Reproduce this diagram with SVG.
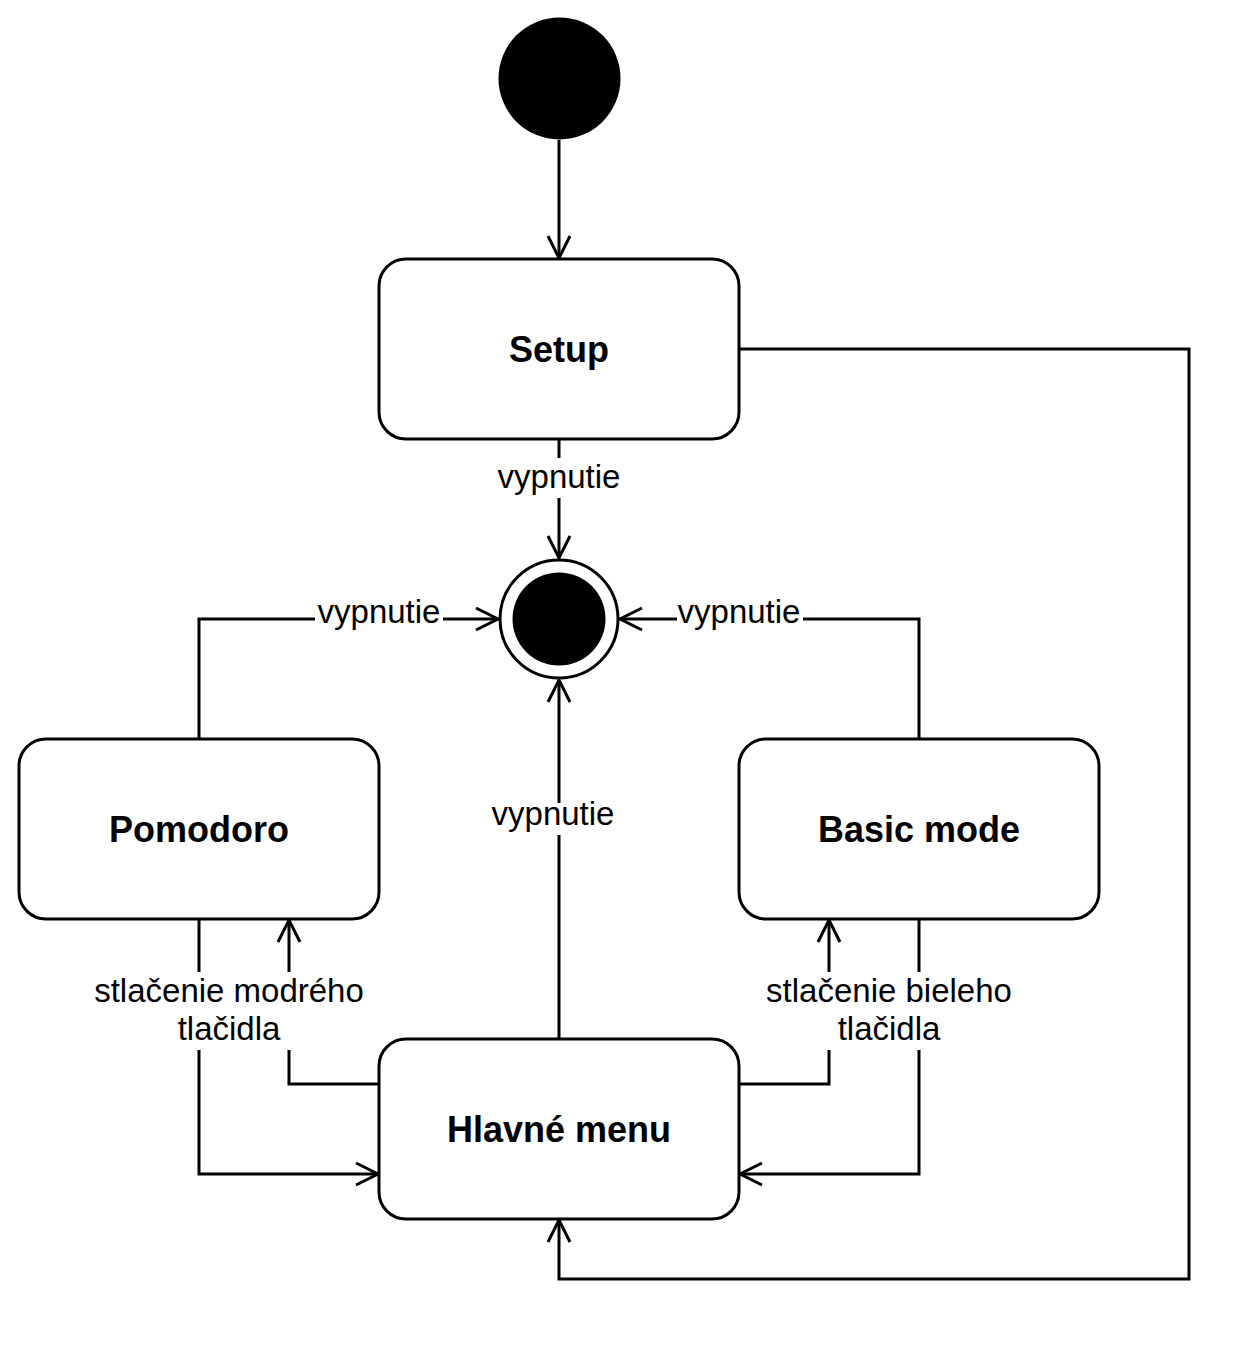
<svg xmlns="http://www.w3.org/2000/svg" width="1257" height="1347" viewBox="0 0 1257 1347">
<style>
.box{fill:#fff;stroke:#000;stroke-width:3}
.title{font-family:"Liberation Sans",Arial,sans-serif;font-weight:bold;font-size:36px;text-anchor:middle;fill:#000}
.lbl{font-family:"Liberation Sans",Arial,sans-serif;font-size:33px;text-anchor:middle;fill:#000}
.edge{fill:none;stroke:#000;stroke-width:3;marker-end:url(#arr)}
.edge2{fill:none;stroke:#000;stroke-width:3}
.bg{fill:#fff}
</style>
<defs>
<marker id="arr" markerUnits="userSpaceOnUse" markerWidth="30" markerHeight="30" viewBox="-25 -15 30 30" refX="0" refY="0" orient="auto" overflow="visible">
<path d="M-22,-11 L0,0 L-22,11" fill="none" stroke="#000" stroke-width="3"/>
</marker>
</defs>
<rect width="1257" height="1347" fill="#fff"/>
<g id="connectors">
<path class="edge" d="M559,140 L559,258"/>
<path class="edge" d="M559,439 L559,558"/>
<path class="edge" d="M199,739 L199,619 L498,619"/>
<path class="edge" d="M919,739 L919,619 L620,619"/>
<path class="edge" d="M559,1039 L559,680"/>
<path class="edge" d="M199,919 L199,1174 L378,1174"/>
<path class="edge" d="M379,1084 L289,1084 L289,920"/>
<path class="edge" d="M919,919 L919,1174 L740,1174"/>
<path class="edge" d="M739,1084 L829,1084 L829,920"/>
<path class="edge" d="M739,349 L1189,349 L1189,1279 L559,1279 L559,1220"/>
<rect class="bg" x="497" y="458" width="124" height="40"/>
<text class="lbl" x="559" y="488">vypnutie</text>
<rect class="bg" x="315" y="598" width="128" height="32"/>
<text class="lbl" x="379" y="623">vypnutie</text>
<rect class="bg" x="677" y="598" width="126" height="32"/>
<text class="lbl" x="739" y="623">vypnutie</text>
<rect class="bg" x="491" y="803" width="124" height="32"/>
<text class="lbl" x="553" y="825">vypnutie</text>
<rect class="bg" x="93" y="972" width="272" height="78"/>
<text class="lbl" x="229" y="1002">stlačenie modrého</text>
<text class="lbl" x="229" y="1040">tlačidla</text>
<rect class="bg" x="764" y="972" width="250" height="78"/>
<text class="lbl" x="889" y="1002">stlačenie bieleho</text>
<text class="lbl" x="889" y="1040">tlačidla</text>
</g>
<g id="initial">
<circle cx="559.5" cy="78.5" r="61" fill="#000"/>
</g>
<g id="setup">
<rect class="box" x="379" y="259" width="360" height="180" rx="27" ry="27"/>
<text class="title" x="559" y="362">Setup</text>
</g>
<g id="final">
<circle cx="559" cy="619" r="59" fill="#fff" stroke="#000" stroke-width="3"/>
<circle cx="559" cy="619" r="46.5" fill="#000"/>
</g>
<g id="pomodoro">
<rect class="box" x="19" y="739" width="360" height="180" rx="27" ry="27"/>
<text class="title" x="199" y="842">Pomodoro</text>
</g>
<g id="basic">
<rect class="box" x="739" y="739" width="360" height="180" rx="27" ry="27"/>
<text class="title" x="919" y="842">Basic mode</text>
</g>
<g id="menu">
<rect class="box" x="379" y="1039" width="360" height="180" rx="27" ry="27"/>
<text class="title" x="559" y="1142">Hlavné menu</text>
</g>
</svg>
